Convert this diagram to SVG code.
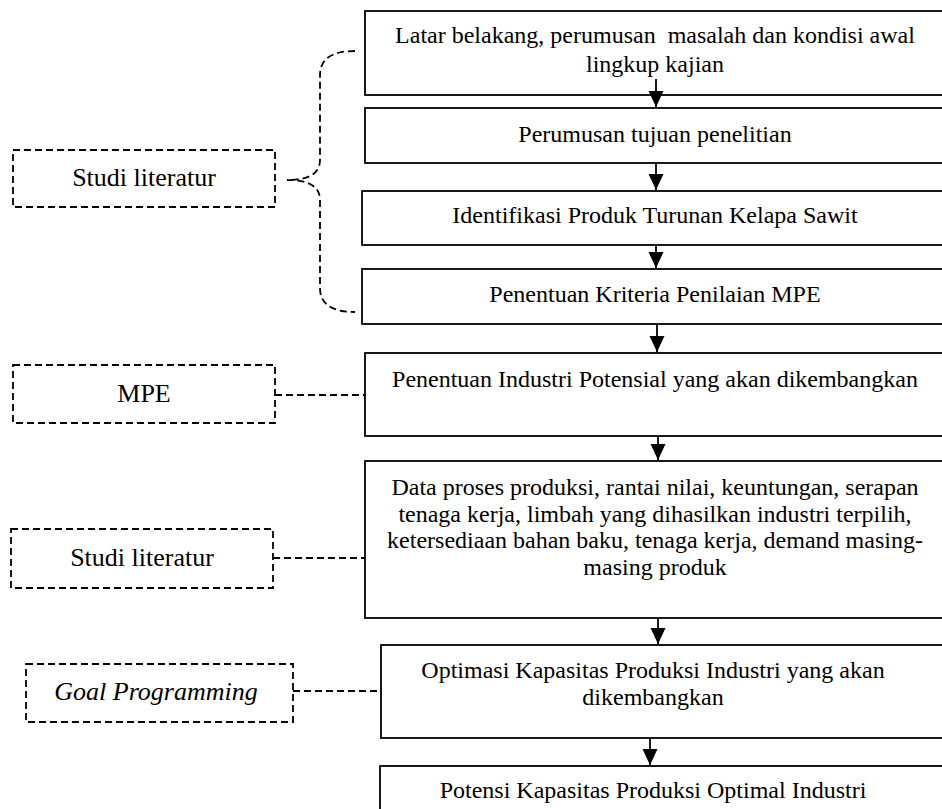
<svg xmlns="http://www.w3.org/2000/svg" width="942" height="809" viewBox="0 0 942 809">
<style>
.box{fill:#fff;stroke:#000;stroke-width:1.8}
.side{fill:#fff;stroke:#000;stroke-width:1.8;stroke-dasharray:7 4}
.dash{fill:none;stroke:#000;stroke-width:1.8;stroke-dasharray:7 4}
.arrow{fill:none;stroke:#000;stroke-width:1.8}
.t{font-family:"Liberation Serif","Times New Roman",serif;font-size:24px;fill:#000;text-anchor:middle}
.s{font-family:"Liberation Serif","Times New Roman",serif;font-size:26px;fill:#000;text-anchor:middle}
</style>
<defs>
<marker id="ah" markerUnits="userSpaceOnUse" markerWidth="16" markerHeight="16" viewBox="0 0 16 16" refX="16" refY="8" orient="auto">
<path d="M0,0.5 L16,8 L0,15.5 z" fill="#000"/>
</marker>
</defs>
<rect width="942" height="809" fill="#fff"/>
<g id="n1"><rect class="box" x="365" y="11" width="585" height="84"/>
<text class="t" x="655" y="43" xml:space="preserve">Latar belakang, perumusan  masalah dan kondisi awal</text>
<text class="t" x="655" y="72">lingkup kajian</text></g>
<g id="n2"><rect class="box" x="365" y="108" width="585" height="55"/>
<text class="t" x="655" y="142">Perumusan tujuan penelitian</text></g>
<g id="n3"><rect class="box" x="362" y="191" width="588" height="54"/>
<text class="t" x="655" y="223">Identifikasi Produk Turunan Kelapa Sawit</text></g>
<g id="n4"><rect class="box" x="362" y="269" width="588" height="55"/>
<text class="t" x="655" y="302">Penentuan Kriteria Penilaian MPE</text></g>
<g id="n5"><rect class="box" x="365" y="353" width="585" height="83"/>
<text class="t" x="655" y="387">Penentuan Industri Potensial yang akan dikembangkan</text></g>
<g id="n6"><rect class="box" x="365" y="461" width="585" height="157"/>
<text class="t" x="655" y="495">Data proses produksi, rantai nilai, keuntungan, serapan</text>
<text class="t" x="655" y="522">tenaga kerja, limbah yang dihasilkan industri terpilih,</text>
<text class="t" x="655" y="548">ketersediaan bahan baku, tenaga kerja, demand masing-</text>
<text class="t" x="655" y="575">masing produk</text></g>
<g id="n7"><rect class="box" x="381" y="645" width="569" height="93"/>
<text class="t" x="653" y="678">Optimasi Kapasitas Produksi Industri yang akan</text>
<text class="t" x="653" y="705">dikembangkan</text></g>
<g id="n8"><rect class="box" x="380" y="766" width="570" height="60"/>
<text class="t" x="653" y="798">Potensi Kapasitas Produksi Optimal Industri</text></g>
<g id="s1"><rect class="side" x="13" y="150" width="262" height="57"/>
<text class="s" x="144" y="186">Studi literatur</text></g>
<g id="s2"><rect class="side" x="13" y="365" width="262" height="58"/>
<text class="s" x="144" y="402">MPE</text></g>
<g id="s3"><rect class="side" x="11" y="529" width="262" height="59"/>
<text class="s" x="142" y="566">Studi literatur</text></g>
<g id="s4"><rect class="side" x="26" y="664" width="267" height="58"/>
<text class="s" x="156" y="700" font-style="italic">Goal Programming</text></g>
<g id="connectors">
<line class="arrow" x1="656" y1="79" x2="656" y2="107" marker-end="url(#ah)"/>
<line class="arrow" x1="656" y1="163" x2="656" y2="190" marker-end="url(#ah)"/>
<line class="arrow" x1="656" y1="245" x2="656" y2="268" marker-end="url(#ah)"/>
<line class="arrow" x1="657" y1="324" x2="657" y2="352" marker-end="url(#ah)"/>
<line class="arrow" x1="658" y1="436" x2="658" y2="460" marker-end="url(#ah)"/>
<line class="arrow" x1="658" y1="618" x2="658" y2="644" marker-end="url(#ah)"/>
<line class="arrow" x1="650" y1="738" x2="650" y2="765" marker-end="url(#ah)"/>
<path class="dash" d="M355,51 Q320,51 320,75 L320,160 Q320,180 287,180 Q320,180 320,200 L320,288 Q320,312 355,312"/>
<line class="dash" x1="275" y1="395" x2="365" y2="395"/>
<line class="dash" x1="273" y1="558" x2="365" y2="558"/>
<line class="dash" x1="293" y1="691" x2="381" y2="691"/>
</g>
</svg>
